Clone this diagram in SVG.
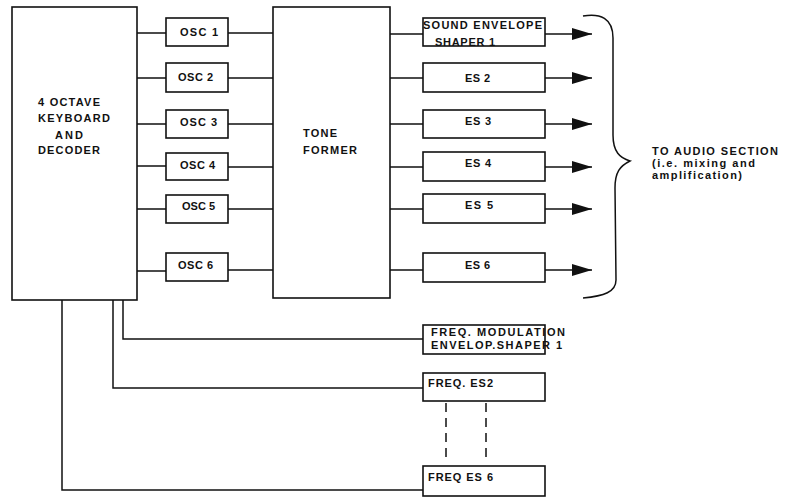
<svg xmlns="http://www.w3.org/2000/svg" width="791" height="498" viewBox="0 0 791 498">
<defs>
<style>
.box{fill:#fff;stroke:#111;stroke-width:1.6}
.ln{fill:none;stroke:#111;stroke-width:1.5}
.t{font-family:"Liberation Sans",Arial,sans-serif;font-weight:bold;font-size:11px;fill:#111}
.s{font-family:"Liberation Sans",Arial,sans-serif;font-weight:bold;font-size:11px;fill:#111}
</style>
<marker id="ah" viewBox="0 0 20 12" refX="20" refY="6" markerWidth="20" markerHeight="12" markerUnits="userSpaceOnUse" orient="auto">
<path d="M0,0 L20,6 L0,12 Z" fill="#111"/>
</marker>
</defs>
<rect width="791" height="498" fill="#fff"/>
<g id="connectors">
<path class="ln" d="M137,33H166M137,78H166M137,124H166M137,166H166M137,209H166M137,271H166"/>
<path class="ln" d="M228,33H273M228,78H273M228,124H273M228,167H273M228,209H273M228,270H273"/>
<path class="ln" d="M390,34H423M390,78H423M390,124H423M390,167H423M390,209H423M390,270H423"/>
<path class="ln" marker-end="url(#ah)" d="M545,34H592"/>
<path class="ln" marker-end="url(#ah)" d="M545,78H592"/>
<path class="ln" marker-end="url(#ah)" d="M545,124H592"/>
<path class="ln" marker-end="url(#ah)" d="M545,167H592"/>
<path class="ln" marker-end="url(#ah)" d="M545,209H592"/>
<path class="ln" marker-end="url(#ah)" d="M545,270H592"/>
<path class="ln" d="M123,300V339H423M113,300V388H423M62,300V490H423"/>
<path class="ln" stroke-dasharray="9,6" d="M446,403V458M486,403V458"/>
</g>
<g id="brace">
<path class="ln" d="M583,16C600,13 613,18 613,38L613,135C613,152 620,158 630,161C620,166 615,172 615,188L616,280C616,292 604,296 583,298"/>
</g>
<g id="keyboard">
<rect class="box" x="12" y="7" width="125" height="293"/>
<text class="t" x="38" y="106" textLength="62">4 OCTAVE</text>
<text class="t" x="38" y="122" textLength="72">KEYBOARD</text>
<text class="t" x="55" y="139" textLength="28">AND</text>
<text class="t" x="38" y="154" textLength="62">DECODER</text>
</g>
<g id="osc1"><rect class="box" x="166" y="18" width="62" height="28"/><text class="t" x="180" y="36" textLength="38">OSC  1</text></g>
<g id="osc2"><rect class="box" x="166" y="63" width="62" height="29"/><text class="t" x="178" y="81" textLength="35">OSC 2</text></g>
<g id="osc3"><rect class="box" x="166" y="110" width="62" height="28"/><text class="t" x="180" y="126" textLength="37">OSC 3</text></g>
<g id="osc4"><rect class="box" x="166" y="153" width="62" height="27"/><text class="t" x="180" y="169" textLength="35">OSC 4</text></g>
<g id="osc5"><rect class="box" x="166" y="195" width="62" height="28"/><text class="t" x="182" y="210" textLength="33">OSC 5</text></g>
<g id="osc6"><rect class="box" x="166" y="253" width="62" height="28"/><text class="t" x="178" y="269" textLength="35">OSC 6</text></g>
<g id="toneformer">
<rect class="box" x="273" y="7" width="117" height="291"/>
<text class="t" x="303" y="137" textLength="34">TONE</text>
<text class="t" x="303" y="154" textLength="54">FORMER</text>
</g>
<g id="es1"><rect class="box" x="423" y="18" width="122" height="28"/><text class="t" x="423" y="29" textLength="119">SOUND ENVELOPE</text><text class="t" x="435" y="46" textLength="60">SHAPER 1</text></g>
<g id="es2"><rect class="box" x="423" y="63" width="122" height="29"/><text class="t" x="465" y="82" textLength="25">ES 2</text></g>
<g id="es3"><rect class="box" x="423" y="110" width="122" height="28"/><text class="t" x="465" y="125" textLength="26">ES 3</text></g>
<g id="es4"><rect class="box" x="423" y="152" width="122" height="29"/><text class="t" x="465" y="167" textLength="26">ES 4</text></g>
<g id="es5"><rect class="box" x="423" y="194" width="122" height="29"/><text class="t" x="465" y="209" textLength="28">ES  5</text></g>
<g id="es6"><rect class="box" x="423" y="253" width="122" height="29"/><text class="t" x="465" y="269" textLength="25">ES 6</text></g>
<g id="fm1"><rect class="box" x="423" y="325" width="122" height="29"/><text class="t" x="431" y="336" textLength="134">FREQ. MODULATION</text><text class="t" x="431" y="349" textLength="131">ENVELOP.SHAPER 1</text></g>
<g id="fes2"><rect class="box" x="423" y="373" width="122" height="28"/><text class="t" x="428" y="387" textLength="65">FREQ. ES2</text></g>
<g id="fes6"><rect class="box" x="423" y="466" width="122" height="30"/><text class="t" x="428" y="481" textLength="65">FREQ ES 6</text></g>
<g id="audio">
<text class="t" x="652" y="155" font-size="12" textLength="126">TO AUDIO SECTION</text>
<text class="s" x="652" y="167" textLength="103">(i.e. mixing and</text>
<text class="s" x="652" y="179" textLength="90">amplification)</text>
</g>
</svg>
